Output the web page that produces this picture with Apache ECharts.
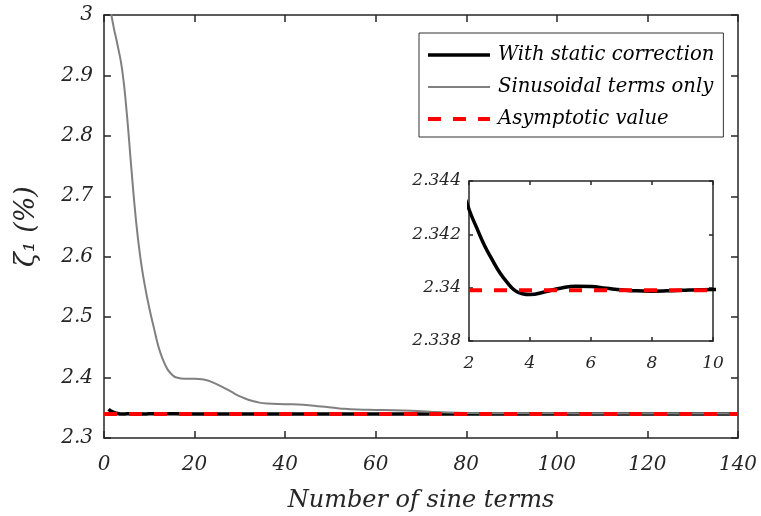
<!DOCTYPE html>
<html><head><meta charset="utf-8">
<script src="https://cdn.jsdelivr.net/npm/echarts@6/dist/echarts.min.js"></script>
<style>html,body{margin:0;padding:0;background:#fff}#c{width:761px;height:516px}</style>
</head><body><div id="c"></div>
<script>
// ---- data ----
const xTicks = [0, 20, 40, 60, 80, 100, 120, 140];
const yTicks = [2.3, 2.4, 2.5, 2.6, 2.7, 2.8, 2.9, 3];
const insetXTicks = [2, 4, 6, 8, 10];
const insetYTicks = [2.338, 2.34, 2.342, 2.344];

const sinN    = [1, 2, 3, 4, 5, 6, 7, 8, 9, 10, 11, 12, 13, 14, 15, 16, 18, 20, 22, 24, 26, 28, 30, 32, 34, 36, 40, 44, 48, 52, 56, 60, 64, 68, 72, 76, 80, 90, 100, 110, 120, 140];
const sinVals = [3.03, 2.985, 2.95, 2.91, 2.84, 2.75, 2.665, 2.6, 2.553, 2.515, 2.483, 2.452, 2.43, 2.414, 2.405, 2.4, 2.398, 2.398, 2.397, 2.392, 2.385, 2.377, 2.369, 2.363, 2.359, 2.357, 2.356, 2.355, 2.352, 2.349, 2.347, 2.3465, 2.346, 2.345, 2.3435, 2.3422, 2.3415, 2.341, 2.3408, 2.3406, 2.3405, 2.3404];

const staticN    = [1, 1.5, 2, 2.25, 2.5, 2.75, 3, 3.25, 3.5, 3.75, 4, 4.5, 5, 5.5, 6, 6.5, 7, 7.5, 8, 8.5, 9, 9.5, 10, 12, 20, 40, 80, 140];
const staticVals = [2.3475, 2.3447, 2.34294, 2.34225, 2.3416, 2.34107, 2.34058, 2.3402, 2.3399, 2.33977, 2.33974, 2.33985, 2.33998, 2.34005, 2.34004, 2.33998, 2.33992, 2.33988, 2.33987, 2.33988, 2.3399, 2.33992, 2.33993, 2.33993, 2.33992, 2.33992, 2.33992, 2.33992];

const asymptote = 2.3399;
const asymN = [0, 140];

const names = ['With static correction', 'Sinusoidal terms only', 'Asymptotic value'];

// ---- build ----
const pairs = (xs, ys) => xs.map((x, i) => [x, ys[i]]);
const font = 'DejaVu Serif';
const axisColor = '#262626';

function mkX(gridIndex, ticks, pos, showLabel, fs, margin, tickLen) {
  return {
    type: 'value', gridIndex, position: pos,
    min: ticks[0], max: ticks[ticks.length - 1], interval: ticks[1] - ticks[0],
    axisLine: { show: true, onZero: false, lineStyle: { color: axisColor, width: 1.5 } },
    axisTick: { show: true, inside: true, length: tickLen, lineStyle: { color: axisColor, width: 1.5 } },
    axisLabel: { show: showLabel, fontFamily: font, fontStyle: 'italic', fontSize: fs, color: '#262626', margin },
    splitLine: { show: false }
  };
}
function mkY(gridIndex, ticks, pos, showLabel, fs, margin, tickLen) {
  return {
    type: 'value', gridIndex, position: pos,
    min: ticks[0], max: ticks[ticks.length - 1], interval: +(ticks[1] - ticks[0]).toFixed(6),
    axisLine: { show: true, onZero: false, lineStyle: { color: axisColor, width: 1.5 } },
    axisTick: { show: true, inside: true, length: tickLen, lineStyle: { color: axisColor, width: 1.5 } },
    axisLabel: { show: showLabel, fontFamily: font, fontStyle: 'italic', fontSize: fs, color: '#262626', margin },
    splitLine: { show: false }
  };
}

const xMain = mkX(0, xTicks, 'bottom', true, 20, 17, 7);
xMain.name = 'Number of sine terms';
xMain.nameLocation = 'middle';
xMain.nameGap = 51;
xMain.nameTextStyle = { fontFamily: font, fontStyle: 'italic', fontSize: 24, color: '#262626' };

const yMain = mkY(0, yTicks, 'left', true, 20, 11, 7);
yMain.name = 'ζ₁ (%)';
yMain.nameLocation = 'middle';
yMain.nameRotate = 90;
yMain.nameGap = 64;
yMain.nameTextStyle = { fontFamily: font, fontStyle: 'italic', fontSize: 27, color: '#262626' };

const option = {
  animation: false,
  backgroundColor: '#fff',
  grid: [
    { left: 104, top: 15, width: 634, height: 423, containLabel: false, outerBoundsMode: 'none' },
    { left: 469, top: 181, width: 244, height: 160, show: true, backgroundColor: '#fff', borderWidth: 0, z: 5, outerBoundsMode: 'none' }
  ],
  xAxis: [
    xMain,
    mkX(0, xTicks, 'top', false, 20, 13, 7),
    Object.assign(mkX(1, insetXTicks, 'bottom', true, 17, 14, 4), { z: 6 }),
    Object.assign(mkX(1, insetXTicks, 'top', false, 17, 8, 4), { z: 6 })
  ],
  yAxis: [
    yMain,
    mkY(0, yTicks, 'right', false, 20, 11, 7),
    Object.assign(mkY(1, insetYTicks, 'left', true, 17, 8, 4), { z: 6 }),
    Object.assign(mkY(1, insetYTicks, 'right', false, 17, 8, 4), { z: 6 })
  ],
  legend: {
    orient: 'vertical', left: 419, top: 33,
    data: names,
    itemWidth: 62, itemHeight: 14, itemGap: 12,
    padding: [12, 9, 8, 7],
    borderColor: '#333', borderWidth: 1, backgroundColor: '#fff',
    itemStyle: { opacity: 0 },
    lineStyle: { width: 'inherit' },
    textStyle: { fontFamily: font, fontStyle: 'italic', fontSize: 19.6, color: '#000', padding: [0, 0, 0, 3] },
    z: 10
  },
  series: [
    {
      name: names[0], type: 'line', xAxisIndex: 0, yAxisIndex: 0,
      data: pairs(staticN, staticVals), symbol: 'none', smooth: 0.5,
      lineStyle: { color: '#000', width: 3.5 }, itemStyle: { color: '#000' }, z: 2, clip: true
    },
    {
      name: names[1], type: 'line', xAxisIndex: 0, yAxisIndex: 0,
      data: pairs(sinN, sinVals), symbol: 'none', smooth: 0.5,
      lineStyle: { color: '#808080', width: 2 }, itemStyle: { color: '#808080' }, z: 3, clip: true
    },
    {
      name: names[2], type: 'line', xAxisIndex: 0, yAxisIndex: 0,
      data: pairs(asymN, [asymptote, asymptote]), symbol: 'none',
      lineStyle: { color: '#ff0000', width: 4, type: [13, 12] }, itemStyle: { color: '#ff0000' }, z: 4, clip: true
    },
    {
      name: names[0], type: 'line', xAxisIndex: 2, yAxisIndex: 2,
      data: pairs(staticN, staticVals), symbol: 'none', smooth: 0.5,
      lineStyle: { color: '#000', width: 3.5 }, z: 7, clip: true
    },
    {
      name: names[2], type: 'line', xAxisIndex: 2, yAxisIndex: 2,
      data: pairs([2, 10], [asymptote, asymptote]), symbol: 'none',
      lineStyle: { color: '#ff0000', width: 4, type: [13, 12] }, z: 8, clip: true
    }
  ]
};
const chart = echarts.init(document.getElementById('c'), null, { renderer: 'canvas' });
chart.setOption(option);
</script></body></html>
